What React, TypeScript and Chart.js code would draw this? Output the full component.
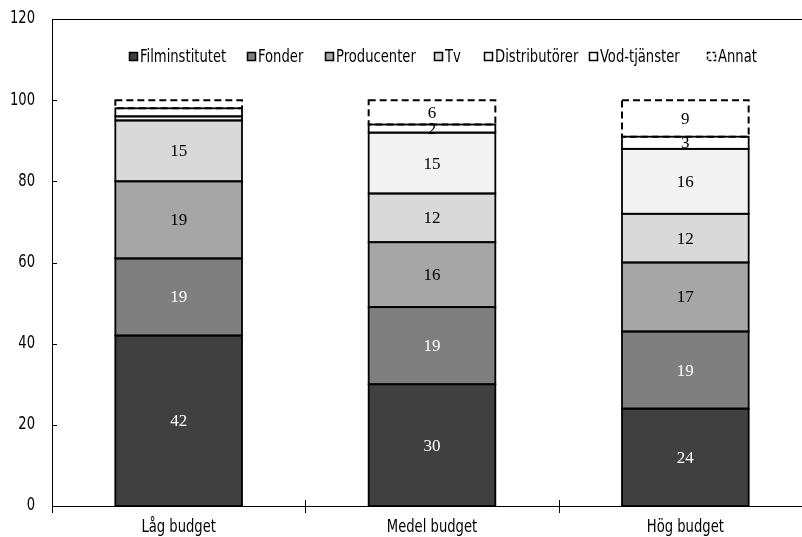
import { useEffect, useRef } from "react";
import { Chart, registerables } from "chart.js";
Chart.register(...registerables);

const categories = ["Låg budget", "Medel budget", "Hög budget"];
const seriesNames = ["Filminstitutet", "Fonder", "Producenter", "Tv", "Distributörer", "Vod-tjänster", "Annat"];
const filminstitutet = [42, 30, 24];
const fonder = [19, 19, 19];
const producenter = [19, 16, 17];
const tv = [15, 12, 12];
const distributorer = [1, 15, 16];
const vodTjanster = [2, 2, 3];
const annat = [2, 6, 9];
const yTicks = [0, 20, 40, 60, 80, 100, 120];
// labels not shown in the reference: [series index, category index]
const hiddenLabels = [[4, 0], [5, 0], [6, 0]];

const seriesValues = [filminstitutet, fonder, producenter, tv, distributorer, vodTjanster, annat];
const fills = ["#404040", "#7f7f7f", "#a6a6a6", "#d9d9d9", "#f2f2f2", "#ffffff", "#ffffff"];
const labelColors = ["#ffffff", "#ffffff", "#000000", "#000000", "#000000", "#000000", "#000000"];
const legendX = [129, 247, 325, 434, 484, 589, 707];

const SANS = '"Liberation Sans Narrow", "DejaVu Sans Condensed", "Arial Narrow", sans-serif';
const SERIF = '"Liberation Serif", "DejaVu Serif", serif';
const SQUEEZE = 0.86;

function narrowText(ctx: any, text: string, x: number, y: number) {
  ctx.save();
  ctx.translate(x, y);
  ctx.scale(SQUEEZE, 1);
  ctx.fillText(text, 0, 0);
  ctx.restore();
}

const overlay = {
  id: "overlay",
  afterDatasetsDraw(chart: any) {
    const ctx = chart.ctx;
    const area = chart.chartArea;
    const ys = chart.scales.y;
    const xs = chart.scales.x;
    ctx.save();
    const last = seriesNames.length - 1;
    // segment outlines (centred on the edges, like the reference)
    ctx.strokeStyle = "#000";
    ctx.lineWidth = 1.8;
    for (let di = 0; di < last; di++) {
      chart.getDatasetMeta(di).data.forEach((el: any) => {
        const { x, y, base, width } = el.getProps(["x", "y", "base", "width"], true);
        ctx.strokeRect(x - width / 2, y, width, base - y);
      });
    }
    // dashed "Annat" boxes
    ctx.lineWidth = 2;
    ctx.setLineDash([7, 4]);
    chart.getDatasetMeta(last).data.forEach((el: any) => {
      const { x, y, base, width } = el.getProps(["x", "y", "base", "width"], true);
      ctx.strokeRect(x - width / 2, y, width, base - y);
    });
    ctx.setLineDash([]);
    // data labels
    ctx.font = `17px ${SERIF}`;
    ctx.textAlign = "center";
    ctx.textBaseline = "middle";
    seriesNames.forEach((_, di) => {
      const m = chart.getDatasetMeta(di);
      m.data.forEach((el: any, ci: number) => {
        if (hiddenLabels.some(([a, b]) => a === di && b === ci)) return;
        const { x, y, base } = el.getProps(["x", "y", "base"], true);
        ctx.fillStyle = labelColors[di];
        ctx.fillText(String(seriesValues[di][ci]), x, (y + base) / 2 + 1);
      });
    });
    // axis ticks
    ctx.strokeStyle = "#000";
    ctx.lineWidth = 1;
    yTicks.forEach((v) => {
      const py = Math.round(ys.getPixelForValue(v)) + 0.5;
      ctx.beginPath();
      ctx.moveTo(area.left, py);
      ctx.lineTo(area.left + 5, py);
      ctx.stroke();
    });
    const n = categories.length;
    const cw = (area.right - area.left) / n;
    for (let i = 0; i <= n; i++) {
      const px = Math.round(area.left + i * cw) + 0.5;
      ctx.beginPath();
      ctx.moveTo(px, i === 0 ? area.bottom : area.bottom - 6);
      ctx.lineTo(px, area.bottom + 7);
      ctx.stroke();
    }
    // top border
    ctx.beginPath();
    ctx.moveTo(area.left, Math.round(area.top) + 0.5);
    ctx.lineTo(area.right, Math.round(area.top) + 0.5);
    ctx.stroke();
    // tick labels (narrow, tall face like the reference)
    ctx.fillStyle = "#000";
    ctx.font = `17px ${SANS}`;
    ctx.textBaseline = "middle";
    ctx.textAlign = "right";
    yTicks.forEach((v) => narrowText(ctx, String(v), 35, ys.getPixelForValue(v)));
    ctx.textAlign = "center";
    categories.forEach((c, i) => narrowText(ctx, c, xs.getPixelForValue(i), area.bottom + 22));
    // legend
    ctx.textAlign = "left";
    const ly = 57;
    seriesNames.forEach((name, i) => {
      const bx = legendX[i];
      ctx.fillStyle = fills[i];
      ctx.fillRect(bx, ly - 5, 9, 9);
      ctx.lineWidth = 1.5;
      ctx.strokeStyle = "#000";
      if (i === last) ctx.setLineDash([3, 2]);
      ctx.strokeRect(bx + 0.5, ly - 4.5, 8, 8);
      ctx.setLineDash([]);
      ctx.fillStyle = "#000";
      narrowText(ctx, name, bx + 11, ly + 1);
    });
    ctx.restore();
  },
};

export default function App() {
  const ref = useRef<HTMLCanvasElement>(null);
  useEffect(() => {
    if (!ref.current) return;
    const chart = new Chart(ref.current, {
      type: "bar",
      data: {
        labels: categories,
        datasets: seriesNames.map((name, i) => ({
          label: name,
          data: seriesValues[i],
          backgroundColor: fills[i],
          borderWidth: 0,
          barPercentage: 0.5,
          categoryPercentage: 1,
        })),
      },
      options: {
        responsive: false,
        animation: false,
        layout: { padding: { top: 19, right: 18, left: 0, bottom: 0 } },
        plugins: { legend: { display: false }, tooltip: { enabled: false } },
        scales: {
          x: {
            stacked: true,
            grid: { display: false, drawTicks: false },
            border: { color: "#000", width: 1 },
            ticks: { display: false },
            afterFit: (s: any) => { s.height = 31; s.paddingLeft = 0; s.paddingRight = 0; },
          },
          y: {
            stacked: true,
            min: 0,
            max: 120,
            grid: { display: false, drawTicks: false },
            border: { color: "#000", width: 1 },
            ticks: { stepSize: 20, display: false },
            afterFit: (s: any) => { s.width = 52; s.paddingTop = 0; s.paddingBottom = 0; },
          },
        },
      },
      plugins: [overlay],
    });
    return () => chart.destroy();
  }, []);
  return (
    <div style={{ position: "fixed", left: 0, top: 0, width: 830, height: 537, background: "#fff" }}>
      <canvas ref={ref} width={830} height={537} style={{ display: "block" }} />
    </div>
  );
}
